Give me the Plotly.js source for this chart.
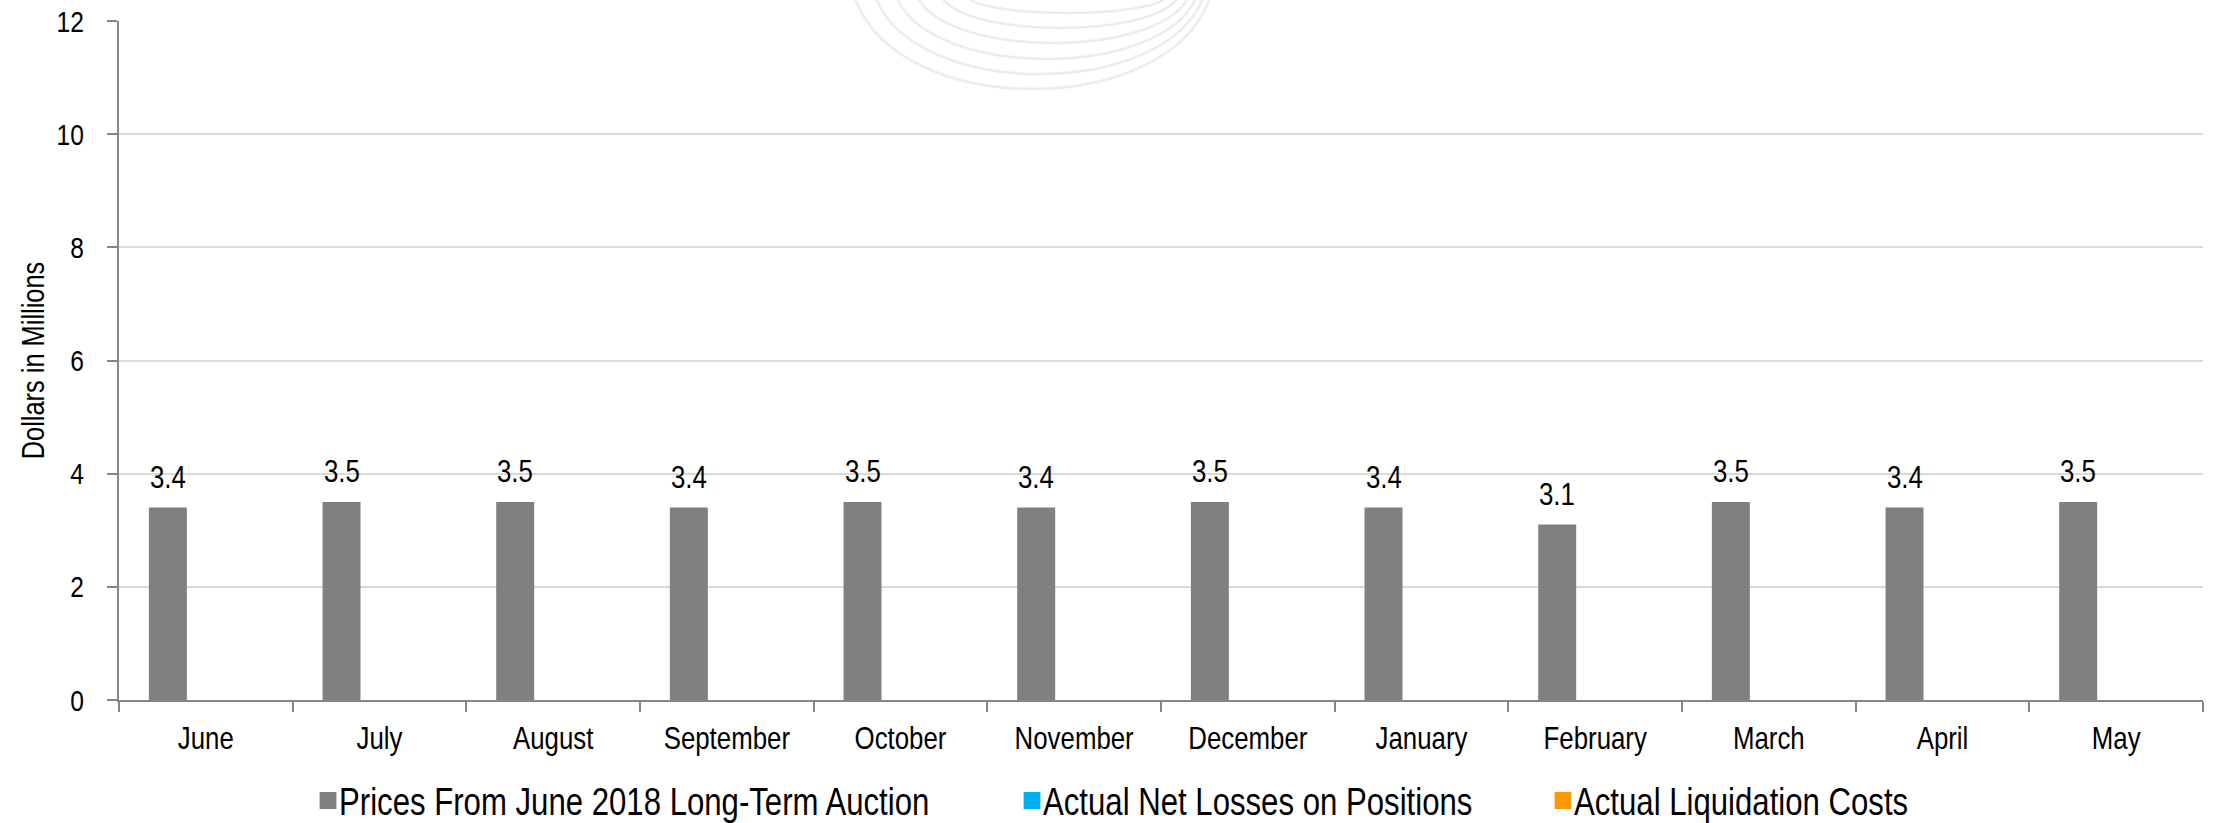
<!DOCTYPE html>
<html>
<head>
<meta charset="utf-8">
<script src="https://cdn.plot.ly/plotly-3.0.1.min.js"></script>
<style>html,body{margin:0;padding:0;background:#fff;}#chart{width:2216px;height:823px;}</style>
</head>
<body>
<div id="chart"></div>
<script>
const months = ["June","July","August","September","October","November","December","January","February","March","April","May"];
const auctionPrices = [3.4,3.5,3.5,3.4,3.5,3.4,3.5,3.4,3.1,3.5,3.4,3.5];
const netLosses = [0,0,0,0,0,0,0,0,0,0,0,0];
const liquidationCosts = [0,0,0,0,0,0,0,0,0,0,0,0];
const seriesNames = ["Prices From June 2018 Long-Term Auction","Actual Net Losses on Positions","Actual Liquidation Costs"];
const yTickVals = [0,2,4,6,8,10,12];

const FONT = "'Liberation Sans', Arial, sans-serif";
const SQUASH = 0.82; // reference uses a narrow typeface
const bargap = 0.344;
const nSeries = 3;

const traces = [
  {type:'bar', name:seriesNames[0], x:months, y:auctionPrices, marker:{color:'#808080'}, legend:'legend', hoverinfo:'y'},
  {type:'bar', name:seriesNames[1], x:months, y:netLosses, marker:{color:'#00B0F0'}, legend:'legend2', hoverinfo:'y'},
  {type:'bar', name:seriesNames[2], x:months, y:liquidationCosts, marker:{color:'#FF9900'}, legend:'legend3', hoverinfo:'y'}
];

const slot = (1 - bargap) / nSeries;
const annotations = auctionPrices.map((v, i) => ({
  x: i - slot, y: v, xref:'x', yref:'y', text: v.toFixed(1), showarrow:false,
  yanchor:'bottom', yshift: 11, font:{family:FONT, size:31.5, color:'#000'}
}));

// faint watermark arcs (decorative)
const W = 2216, L = 119, R = 2203, T = 21, B = 700;
function px2paper(x, y){ return [((x - L)/(R - L)).toFixed(5), ((B - y)/(B - T)).toFixed(5)]; }
const arcs = [[855,1210,91],[876,1203,76],[897,1196,61],[918,1188,45],[942,1178,30],[968,1166,15]];
const shapes = arcs.map(a => {
  const [x0,x1,yb] = a, k = 4/3*yb, d = (x1-x0)*0.12;
  const p0 = px2paper(x0,-2), c1 = px2paper(x0+d, k-2), c2 = px2paper(x1-d, k-2), p1 = px2paper(x1,-2);
  return {type:'path', xref:'paper', yref:'paper', layer:'below',
    path:`M${p0[0]},${p0[1]} C${c1[0]},${c1[1]} ${c2[0]},${c2[1]} ${p1[0]},${p1[1]}`,
    line:{color:'#ececec', width:2.5}};
});

const legendBase = {orientation:'h', xref:'container', yref:'container', yanchor:'middle', y:0.027,
  xanchor:'left', font:{family:FONT, size:38, color:'#000'}, bgcolor:'rgba(0,0,0,0)', itemclick:false};

const layout = {
  width: 2216, height: 823, autosize:false,
  margin:{l:119, r:13, t:21, b:123, pad:0},
  paper_bgcolor:'#fff', plot_bgcolor:'#fff',
  font:{family:FONT, color:'#000'},
  barmode:'group', bargap: bargap, bargroupgap: 0,
  showlegend:true,
  legend: Object.assign({}, legendBase, {x: 299/W}),
  legend2: Object.assign({}, legendBase, {x: 1003/W}),
  legend3: Object.assign({}, legendBase, {x: 1534/W}),
  xaxis:{type:'category', tickson:'boundaries', ticks:'outside', ticklen:10, tickwidth:2, tickcolor:'#868686',
    showline:true, linecolor:'#868686', linewidth:2, showgrid:false, zeroline:false,
    tickfont:{family:FONT, size:31.5, color:'#000'}, ticklabelstandoff:9, fixedrange:true},
  yaxis:{range:[0,12], tickvals:yTickVals, ticks:'outside', ticklen:10, tickwidth:2, tickcolor:'#868686',
    showline:true, linecolor:'#868686', linewidth:2, showgrid:true, gridcolor:'#d9d9d9', gridwidth:2, zeroline:false,
    tickfont:{family:FONT, size:30, color:'#000'}, ticklabelstandoff:17,
    title:{text:'Dollars in Millions', font:{family:FONT, size:31, color:'#000'}, standoff:4}, fixedrange:true},
  annotations: annotations,
  shapes: shapes
};

Plotly.newPlot('chart', traces, layout, {displayModeBar:false, staticPlot:true}).then(gd => {
  // condense glyphs horizontally (about each label's anchor) to mimic the narrow typeface of the original
  gd.querySelectorAll('svg text').forEach(el => {
    const bb = el.getBBox();
    if (!bb.width) return;
    const anchor = el.getAttribute('text-anchor') || getComputedStyle(el).textAnchor || 'start';
    const cx = anchor === 'end' ? bb.x + bb.width : anchor === 'middle' ? bb.x + bb.width / 2 : bb.x;
    let tr = el.getAttribute('transform') || '';
    tr = `${tr} translate(${cx.toFixed(2)},0) scale(${SQUASH},1) translate(${(-cx).toFixed(2)},0)`;
    if (el.classList.contains('ytitle')) tr = 'translate(7,0) ' + tr;
    el.setAttribute('transform', tr.trim());
  });
  // larger legend swatches, sitting close to their labels
  gd.querySelectorAll('.legendpoints path').forEach(el => {
    el.setAttribute('transform', (el.getAttribute('transform') || '') + ' translate(9,0) scale(1.4)');
  });
});
</script>
</body>
</html>
